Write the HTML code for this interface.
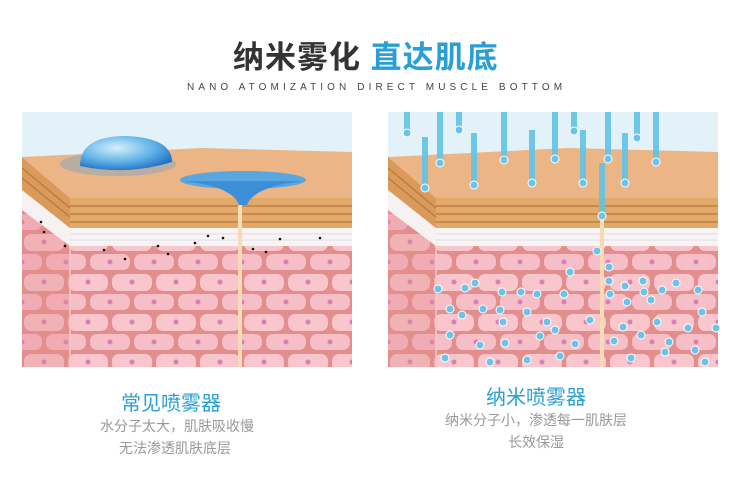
<!DOCTYPE html>
<html><head><meta charset="utf-8"><style>
body{margin:0;width:751px;height:486px;background:#fff;overflow:hidden;font-family:"Liberation Sans","Noto Sans CJK SC",sans-serif;position:relative}
.t{position:absolute;white-space:nowrap}
</style></head><body>
<div class="t" style="left:233px;top:32px;font-size:31px;font-weight:bold;color:#333;letter-spacing:1px">纳米雾化 <span style="color:#2a9fd6">直达肌底</span></div>
<div class="t" style="left:187px;top:82px;font-size:10px;color:#444;letter-spacing:4.1px">NANO ATOMIZATION DIRECT MUSCLE BOTTOM</div>
<div class="t" style="left:121px;top:387px;font-size:20px;color:#2a9fd6">常见喷雾器</div>
<div class="t" style="left:100px;top:416px;width:154px;text-align:center;font-size:14px;color:#999">水分子太大，肌肤吸收慢</div>
<div class="t" style="left:100px;top:438px;width:150px;text-align:center;font-size:14px;color:#999">无法渗透肌肤底层</div>
<div class="t" style="left:486px;top:381px;font-size:20px;color:#2a9fd6">纳米喷雾器</div>
<div class="t" style="left:436px;top:410px;width:200px;text-align:center;font-size:14px;color:#999">纳米分子小，渗透每一肌肤层</div>
<div class="t" style="left:436px;top:432px;width:200px;text-align:center;font-size:14px;color:#999">长效保湿</div>
<svg width="751" height="486" style="position:absolute;left:0;top:0">
<defs>
<pattern id="cells" width="44" height="40" patternUnits="userSpaceOnUse">
<rect width="44" height="40" fill="#e28e8c"/>
<rect x="2" y="2" width="40" height="17" rx="7" fill="#f8c6cc"/>
<rect x="-20" y="22" width="40" height="16" rx="7" fill="#f6bec6"/>
<rect x="24" y="22" width="40" height="16" rx="7" fill="#f6bec6"/>
<circle cx="22" cy="10" r="2.5" fill="#d680b4"/>
<circle cx="44" cy="30" r="2.5" fill="#d680b4"/>
<circle cx="0" cy="30" r="2.5" fill="#d680b4"/>
</pattern>
<radialGradient id="drop" cx="0.4" cy="0.35" r="0.7"><stop offset="0" stop-color="#d6f0fc"/><stop offset="0.6" stop-color="#5cb0e6"/><stop offset="1" stop-color="#1f6fc0"/></radialGradient>
<g id="block">
<rect x="0" y="0" width="330" height="255" fill="#e3f2f9"/>
<rect x="0" y="98" width="330" height="157" fill="url(#cells)"/>
<polygon points="0,98 48,134 48,255 0,255" fill="#e48b8b" opacity="0.35"/>
<line x1="48" y1="134" x2="48" y2="255" stroke="#f3c8c2" stroke-width="1.5"/>
<polygon points="0,78 48,116 48,134 0,98" fill="#f6f2f1"/>
<rect x="48" y="116" width="282" height="18" fill="#f7f4f3"/>
<line x1="48" y1="122" x2="330" y2="122" stroke="#dcdde6"/><line x1="48" y1="128" x2="330" y2="128" stroke="#dcdde6"/>
<polygon points="0,45 48,86 48,116 0,78" fill="#d99a5c"/>
<rect x="48" y="86" width="282" height="30" fill="#e3a96a"/>
<g stroke="#b87838" stroke-width="1.2"><line x1="48" y1="94" x2="330" y2="94"/><line x1="48" y1="102" x2="330" y2="102"/><line x1="48" y1="110" x2="330" y2="110"/><line x1="0" y1="56" x2="48" y2="96"/><line x1="0" y1="66" x2="48" y2="105"/></g>
<polygon points="0,45 180,36 330,40 330,86 48,86" fill="#ebb586"/>
</g>
</defs>
<use href="#block" x="22" y="112"/>
<use href="#block" x="388" y="112"/>
<ellipse cx="118" cy="164" rx="58" ry="12" fill="#5a9fd8" opacity="0.35"/>
<path d="M80,166 Q80,136 126,136 Q172,138 172,162 Q126,176 80,166Z" fill="url(#drop)"/>
<ellipse cx="243" cy="180" rx="63" ry="9" fill="#5aa6e0"/>
<path d="M183,181 Q232,186 239,205 L247,205 Q254,186 305,181Z" fill="#3d8ed8"/>
<rect x="238" y="205" width="4" height="162" fill="#f5dcb4"/>
<g fill="#111"><circle cx="41" cy="222" r="1.3"/><circle cx="44" cy="232" r="1.3"/><circle cx="65" cy="246" r="1.3"/><circle cx="104" cy="250" r="1.3"/><circle cx="158" cy="246" r="1.3"/><circle cx="195" cy="243" r="1.3"/><circle cx="208" cy="236" r="1.3"/><circle cx="223" cy="238" r="1.3"/><circle cx="253" cy="249" r="1.3"/><circle cx="266" cy="252" r="1.3"/><circle cx="280" cy="239" r="1.3"/><circle cx="320" cy="238" r="1.3"/><circle cx="125" cy="259" r="1.3"/><circle cx="168" cy="254" r="1.3"/></g>
<g stroke="#62c3e6" stroke-width="6" opacity="0.9">
<line x1="407" y1="112" x2="407" y2="133"/><line x1="425" y1="137" x2="425" y2="188"/><line x1="440" y1="112" x2="440" y2="163"/><line x1="459" y1="112" x2="459" y2="130"/><line x1="474" y1="133" x2="474" y2="185"/><line x1="504" y1="112" x2="504" y2="160"/><line x1="532" y1="130" x2="532" y2="183"/><line x1="555" y1="112" x2="555" y2="159"/><line x1="574" y1="112" x2="574" y2="131"/><line x1="583" y1="130" x2="583" y2="183"/><line x1="608" y1="112" x2="608" y2="159"/><line x1="625" y1="133" x2="625" y2="183"/><line x1="637" y1="112" x2="637" y2="138"/><line x1="656" y1="112" x2="656" y2="162"/><line x1="602" y1="163" x2="602" y2="216"/>
</g>
<rect x="600" y="216" width="4" height="151" fill="#f5dcb4"/>
<g fill="#6cc3ea" stroke="#fff" stroke-width="1">
<circle cx="407" cy="133" r="4"/><circle cx="425" cy="188" r="4"/><circle cx="440" cy="163" r="4"/><circle cx="459" cy="130" r="4"/><circle cx="474" cy="185" r="4"/><circle cx="504" cy="160" r="4"/><circle cx="532" cy="183" r="4"/><circle cx="555" cy="159" r="4"/><circle cx="574" cy="131" r="4"/><circle cx="583" cy="183" r="4"/><circle cx="608" cy="159" r="4"/><circle cx="625" cy="183" r="4"/><circle cx="637" cy="138" r="4"/><circle cx="656" cy="162" r="4"/><circle cx="602" cy="216" r="4"/>
<circle cx="597" cy="251" r="4"/><circle cx="570" cy="272" r="4"/><circle cx="609" cy="281" r="4"/><circle cx="609" cy="267" r="4"/><circle cx="438" cy="289" r="4"/><circle cx="465" cy="288" r="4"/><circle cx="475" cy="283" r="4"/><circle cx="502" cy="292" r="4"/><circle cx="521" cy="292" r="4"/><circle cx="537" cy="294" r="4"/><circle cx="564" cy="294" r="4"/><circle cx="610" cy="294" r="4"/><circle cx="625" cy="286" r="4"/><circle cx="643" cy="281" r="4"/><circle cx="644" cy="292" r="4"/><circle cx="662" cy="290" r="4"/><circle cx="676" cy="283" r="4"/><circle cx="698" cy="290" r="4"/><circle cx="450" cy="309" r="4"/><circle cx="462" cy="315" r="4"/><circle cx="483" cy="309" r="4"/><circle cx="500" cy="310" r="4"/><circle cx="503" cy="322" r="4"/><circle cx="527" cy="312" r="4"/><circle cx="547" cy="322" r="4"/><circle cx="555" cy="330" r="4"/><circle cx="590" cy="320" r="4"/><circle cx="623" cy="327" r="4"/><circle cx="627" cy="302" r="4"/><circle cx="651" cy="300" r="4"/><circle cx="657" cy="322" r="4"/><circle cx="688" cy="328" r="4"/><circle cx="702" cy="312" r="4"/><circle cx="716" cy="328" r="4"/><circle cx="450" cy="335" r="4"/><circle cx="480" cy="345" r="4"/><circle cx="505" cy="343" r="4"/><circle cx="540" cy="336" r="4"/><circle cx="575" cy="344" r="4"/><circle cx="614" cy="341" r="4"/><circle cx="641" cy="335" r="4"/><circle cx="669" cy="342" r="4"/><circle cx="695" cy="350" r="4"/><circle cx="445" cy="358" r="4"/><circle cx="490" cy="362" r="4"/><circle cx="527" cy="360" r="4"/><circle cx="560" cy="356" r="4"/><circle cx="631" cy="358" r="4"/><circle cx="665" cy="352" r="4"/><circle cx="705" cy="362" r="4"/>
</g>
</svg>
</body></html>
